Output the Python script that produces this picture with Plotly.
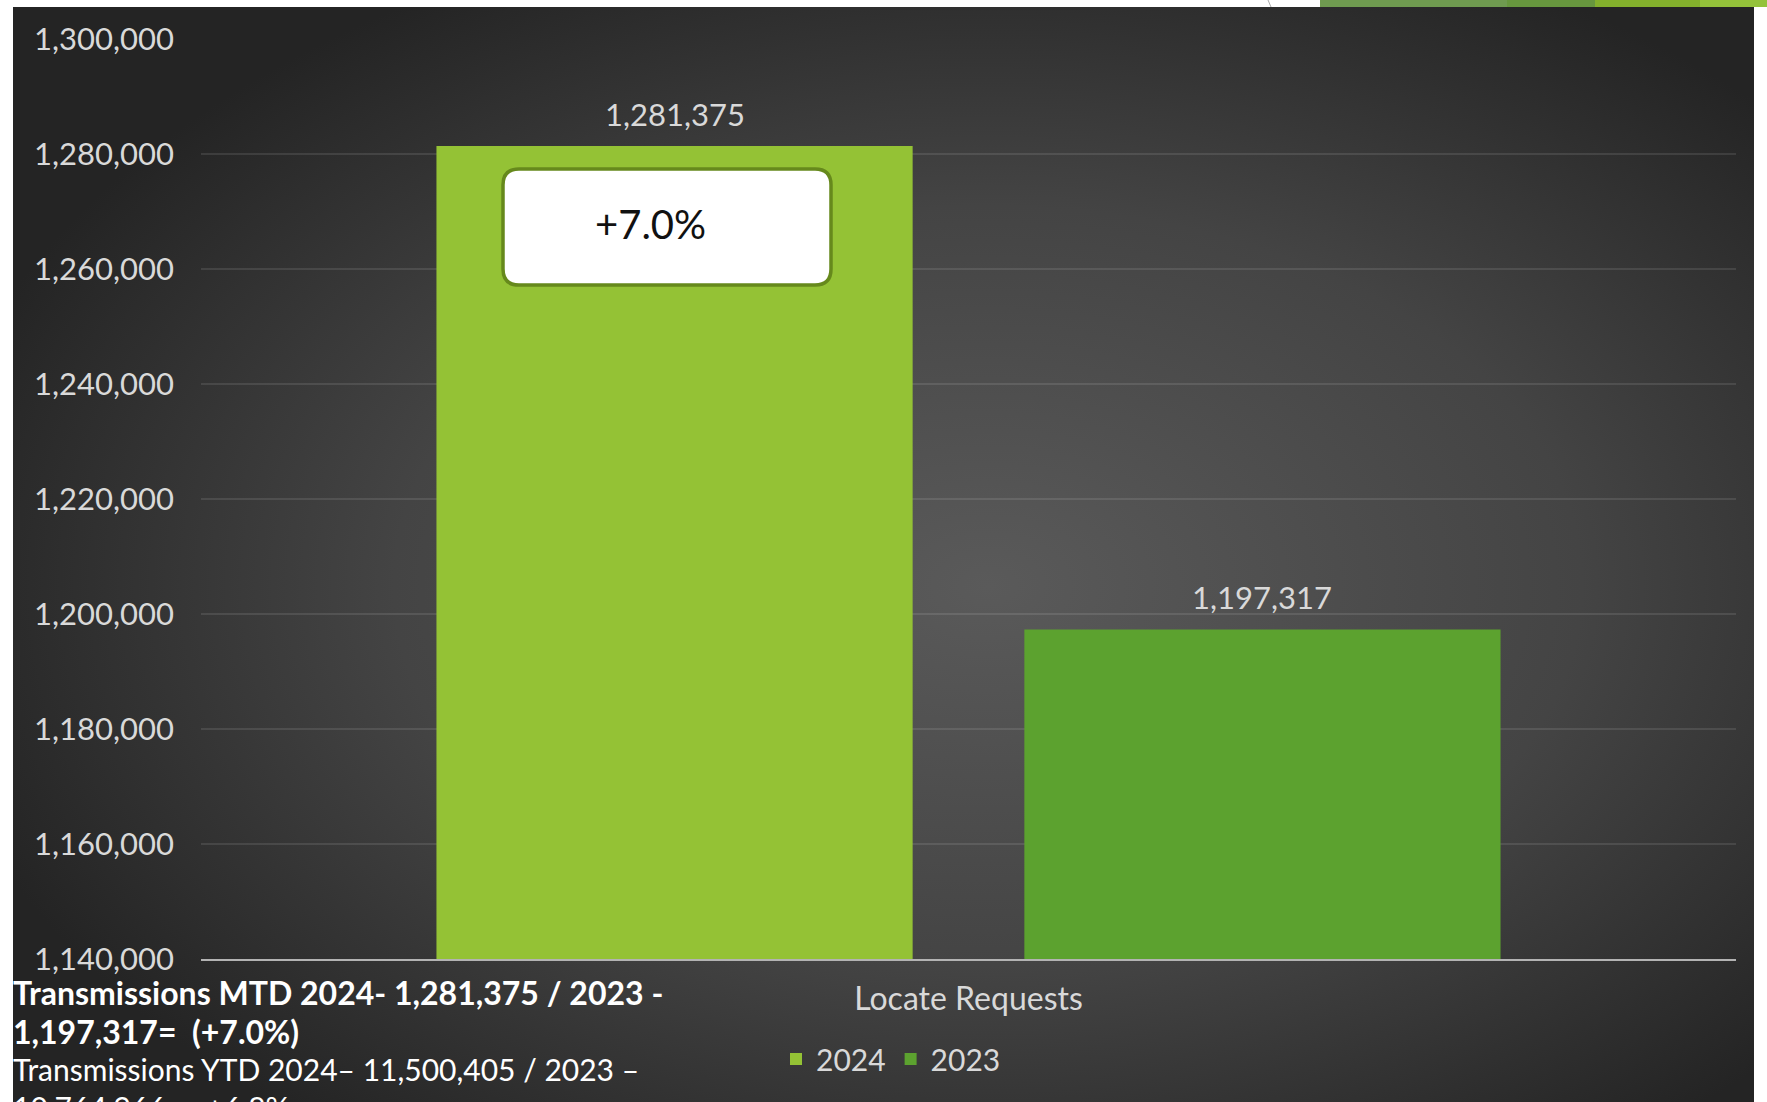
import base64
import plotly.graph_objects as go

# ---------------- data ----------------
categories = ["Locate Requests"]
series_names = ["2024", "2023"]
values_2024 = [1281375]
values_2023 = [1197317]
series_colors = ["#94c235", "#5ca22f"]
pct_change_label = "+7.0%"
y_tick_values = [1140000, 1160000, 1180000, 1200000, 1220000, 1240000,
                 1260000, 1280000, 1300000]
y_range = [1140000, 1300000]
footer_lines = [
    "<b>Transmissions MTD 2024- 1,281,375 / 2023 -</b>",
    "<b>1,197,317=  (+7.0%)</b>",
    "Transmissions YTD 2024\u2013 11,500,405 / 2023 \u2013",
    "10,764,966 =  +6.8%",
]

# ---------------- geometry ----------------
W, H = 1767, 1102
L, R, T, B = 201, 1767 - 1736, 39, 1102 - 959
PW, PH = W - L - R, H - T - B


def px(x):
    return (x - L) / PW


def py(y):
    return (H - B - y) / PH


BARGAP = 0.234
BARGROUPGAP = 0.19
FONT = "Lato"
LABEL_COLOR = "#d9d9d9"

# background radial gradient (svg data uri)
svg = f"""<svg xmlns='http://www.w3.org/2000/svg' width='1741' height='1100' preserveAspectRatio='none'>
<defs><radialGradient id='g' cx='0.56' cy='0.52' r='0.62'>
<stop offset='0' stop-color='#5a5a5a'/><stop offset='0.55' stop-color='#444444'/>
<stop offset='1' stop-color='#242424'/></radialGradient></defs>
<rect width='1741' height='1100' fill='url(#g)'/></svg>"""
svg_uri = "data:image/svg+xml;base64," + base64.b64encode(svg.encode()).decode()

fig = go.Figure()
all_values = [values_2024, values_2023]
for name, vals, col in zip(series_names, all_values, series_colors):
    fig.add_trace(go.Bar(
        x=categories, y=vals, name=name,
        marker=dict(color=col, line=dict(width=0)),
        hoverinfo="skip",
    ))

# value labels above bars
slot = (1 - BARGAP) / len(series_names)
annotations = []
for i, vals in enumerate(all_values):
    off = -(1 - BARGAP) / 2 + slot * (i + 0.5)
    for ci, v in enumerate(vals):
        annotations.append(dict(
            x=ci + off, y=v, xref="x", yref="y", text=f"{v:,}",
            showarrow=False, yanchor="bottom", yshift=11,
            font=dict(family=FONT, size=31, color=LABEL_COLOR),
        ))

# percent change box text
annotations.append(dict(
    x=px(650), y=py(224), xref="paper", yref="paper", text=pct_change_label,
    showarrow=False, xanchor="center", yanchor="middle",
    font=dict(family=FONT, size=40, color="#111111"),
))

# footer text
footer_y = [993, 1031, 1069, 1107]
footer_sizes = [32, 32, 30, 30]
for line, yy, fs in zip(footer_lines, footer_y, footer_sizes):
    annotations.append(dict(
        x=px(11), y=py(yy), xref="paper", yref="paper", text=line,
        showarrow=False, xanchor="left", yanchor="middle",
        font=dict(family=FONT, size=fs, color="#ffffff"),
    ))

# rounded box shape
x0, x1, y0, y1, r = 503, 831, 169, 285, 16


def rr_path(x0, y0, x1, y1, r):
    p = [f"M {px(x0 + r)} {py(y0)}", f"L {px(x1 - r)} {py(y0)}",
         f"Q {px(x1)} {py(y0)} {px(x1)} {py(y0 + r)}",
         f"L {px(x1)} {py(y1 - r)}",
         f"Q {px(x1)} {py(y1)} {px(x1 - r)} {py(y1)}",
         f"L {px(x0 + r)} {py(y1)}",
         f"Q {px(x0)} {py(y1)} {px(x0)} {py(y1 - r)}",
         f"L {px(x0)} {py(y0 + r)}",
         f"Q {px(x0)} {py(y0)} {px(x0 + r)} {py(y0)} Z"]
    return " ".join(p)


shapes = [
    dict(type="path", xref="paper", yref="paper", path=rr_path(x0, y0, x1, y1, r),
         fillcolor="#ffffff", line=dict(color="#66891c", width=3.5), layer="above"),
]
# top-right slide decoration strips
deco = [(1320, 1507, "#6f9b50"), (1507, 1595, "#67973e"),
        (1595, 1700, "#83b02c"), (1700, 1767, "#94c23a")]
for a, b, c in deco:
    shapes.append(dict(type="rect", xref="paper", yref="paper",
                       x0=px(a), x1=px(b), y0=py(7), y1=py(0),
                       fillcolor=c, line=dict(width=0), layer="below"))
shapes.append(dict(type="line", xref="paper", yref="paper",
                   x0=px(1268), x1=px(1271), y0=py(0), y1=py(7),
                   line=dict(color="#aaaaaa", width=1)))

fig.update_layout(
    width=W, height=H,
    margin=dict(l=L, r=R, t=T, b=B, pad=0),
    paper_bgcolor="#ffffff", plot_bgcolor="rgba(0,0,0,0)",
    barmode="group", bargap=BARGAP, bargroupgap=BARGROUPGAP,
    font=dict(family=FONT, color=LABEL_COLOR),
    showlegend=True,
    legend=dict(orientation="h", x=px(776), xanchor="left", y=py(1059),
                yanchor="middle", bgcolor="rgba(0,0,0,0)",
                font=dict(family=FONT, size=30, color=LABEL_COLOR),
                itemclick=False, itemdoubleclick=False, traceorder="normal"),
    annotations=annotations,
    shapes=shapes,
    images=[dict(source=svg_uri, xref="paper", yref="paper",
                 x=px(13), y=py(7), sizex=px(1754) - px(13),
                 sizey=py(7) - py(1120), xanchor="left", yanchor="top",
                 sizing="stretch", layer="below")],
    xaxis=dict(showgrid=False, showline=True, linecolor="#b3b3b3", linewidth=2,
               tickfont=dict(family=FONT, size=32, color=LABEL_COLOR),
               ticks="", ticklabelstandoff=11, zeroline=False, fixedrange=True),
    yaxis=dict(range=y_range, tickvals=y_tick_values, tickformat=",",
               showgrid=True, gridcolor="rgba(255,255,255,0.10)", gridwidth=2,
               showline=False, zeroline=False,
               tickfont=dict(family=FONT, size=31, color=LABEL_COLOR),
               ticks="", ticklabelstandoff=26, fixedrange=True),
)

fig.write_html("out.html", config=dict(displayModeBar=False),
               post_script="document.body.style.margin='0';document.body.style.overflow='hidden';")
